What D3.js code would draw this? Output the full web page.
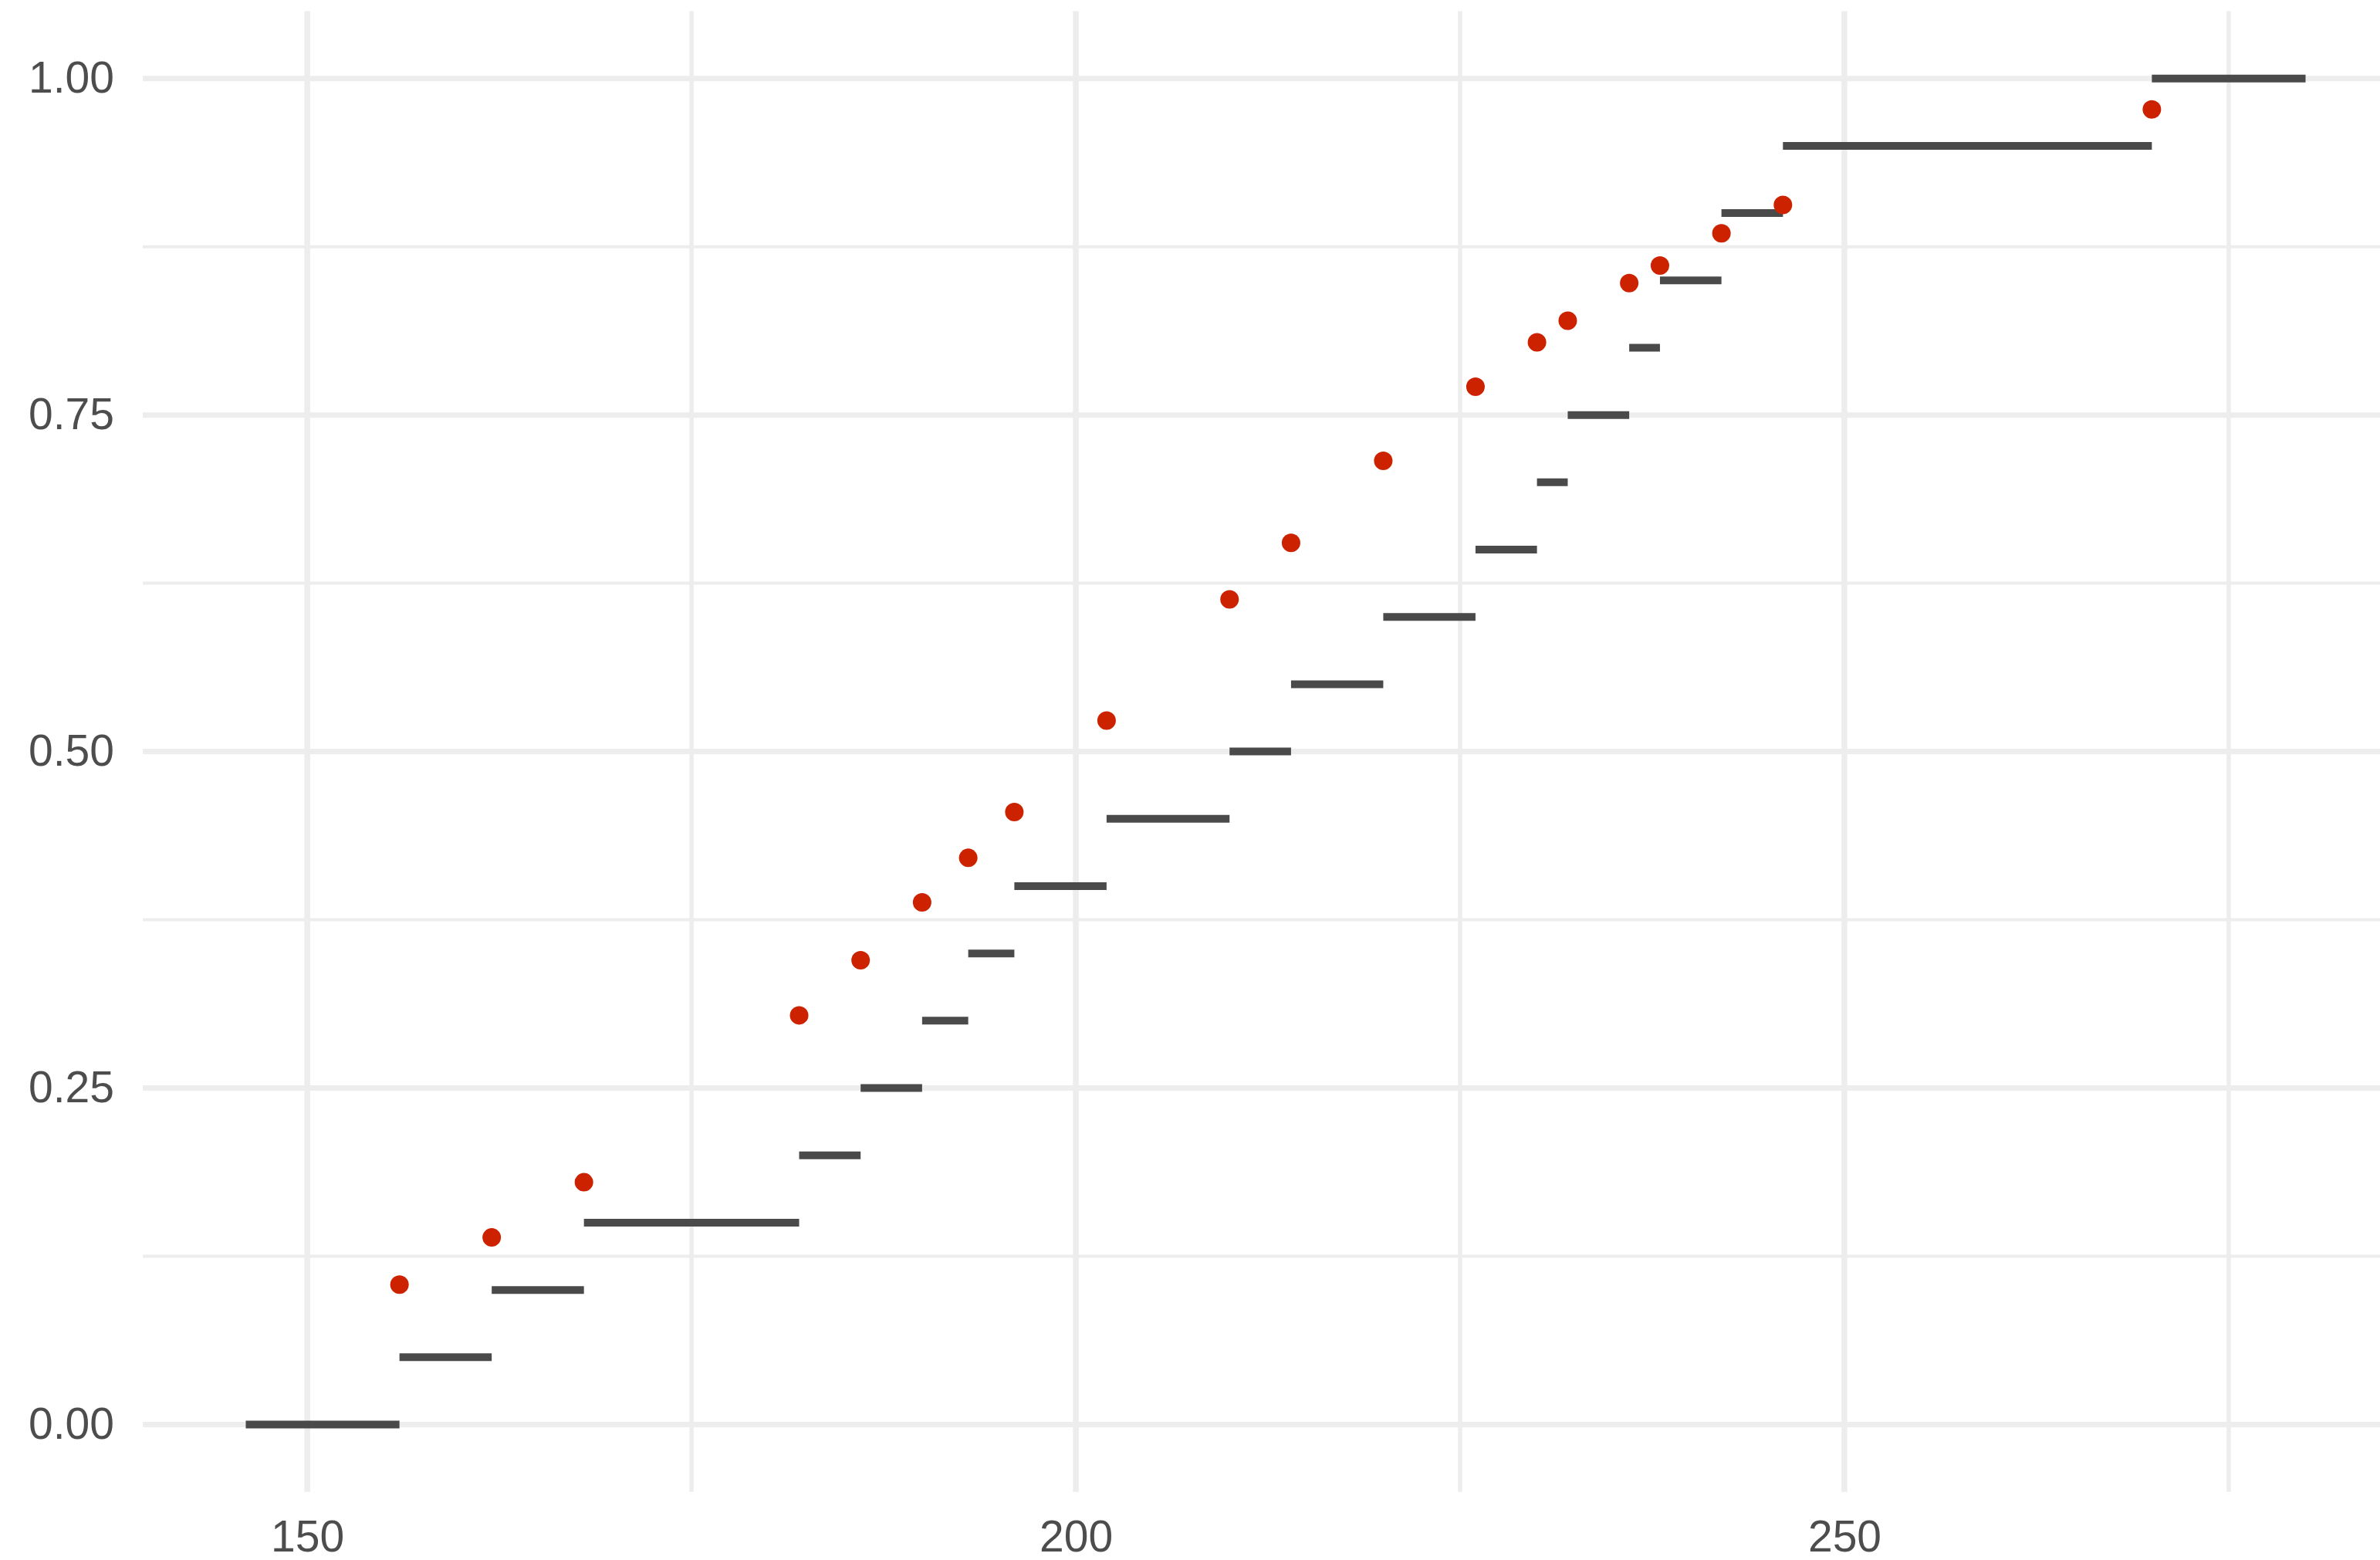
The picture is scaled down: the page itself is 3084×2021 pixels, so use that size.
<!DOCTYPE html>
<html>
<head>
<meta charset="utf-8">
<script src="https://cdn.jsdelivr.net/npm/d3@7"></script>
<style>
  html, body { margin: 0; padding: 0; background: #ffffff; overflow: hidden; }
  svg { display: block; }
</style>
</head>
<body>
<svg id="chart" width="3084" height="2021"></svg>
<script>
// ---- Data ----
const stepStarts = [146, 156, 162, 168, 182, 186, 190, 193, 196, 202, 210, 214, 220, 226, 230, 232, 236, 238, 242, 246, 270];
const stepEnds   = [156, 162, 168, 182, 186, 190, 193, 196, 202, 210, 214, 220, 226, 230, 232, 236, 238, 242, 246, 270, 280];
const stepLevels = [0.00, 0.05, 0.10, 0.15, 0.20, 0.25, 0.30, 0.35, 0.40, 0.45, 0.50, 0.55, 0.60, 0.65, 0.70, 0.75, 0.80, 0.85, 0.90, 0.95, 1.00];

const pointX = [156, 162, 168, 182, 186, 190, 193, 196, 202, 210, 214, 220, 226, 230, 232, 236, 238, 242, 246, 270];
const pointY = [0.104, 0.139, 0.180, 0.304, 0.345, 0.388, 0.421, 0.455, 0.523, 0.613, 0.655, 0.716, 0.771, 0.804, 0.820, 0.848, 0.861, 0.885, 0.906, 0.977];

const xMajorTicks = [150, 200, 250];
const xMinorTicks = [175, 225, 275];
const yMajorTicks = [0, 0.25, 0.5, 0.75, 1.0];
const yMinorTicks = [0.125, 0.375, 0.625, 0.875];
const yTickLabels = ["0.00", "0.25", "0.50", "0.75", "1.00"];

// ---- Layout ----
const panel = { left: 185, right: 3121, top: 14.5, bottom: 1932.7 };
const svg = d3.select("#chart");

const x = d3.scaleLinear().domain([139.3, 286.7]).range([panel.left, panel.right]);
const y = d3.scaleLinear().domain([-0.05, 1.05]).range([panel.bottom, panel.top]);

const grid = svg.append("g");
const gridColor = "#ededed";

// minor gridlines
grid.selectAll("line.hminor").data(yMinorTicks).enter().append("line")
  .attr("x1", panel.left).attr("x2", panel.right)
  .attr("y1", d => y(d)).attr("y2", d => y(d))
  .attr("stroke", gridColor).attr("stroke-width", 4);
grid.selectAll("line.vminor").data(xMinorTicks).enter().append("line")
  .attr("y1", panel.top).attr("y2", panel.bottom)
  .attr("x1", d => x(d)).attr("x2", d => x(d))
  .attr("stroke", gridColor).attr("stroke-width", 5.5);

// major gridlines
grid.selectAll("line.hmajor").data(yMajorTicks).enter().append("line")
  .attr("x1", panel.left).attr("x2", panel.right)
  .attr("y1", d => y(d)).attr("y2", d => y(d))
  .attr("stroke", gridColor).attr("stroke-width", 7);
grid.selectAll("line.vmajor").data(xMajorTicks).enter().append("line")
  .attr("y1", panel.top).attr("y2", panel.bottom)
  .attr("x1", d => x(d)).attr("x2", d => x(d))
  .attr("stroke", gridColor).attr("stroke-width", 7.5);

// step segments
const steps = stepStarts.map((s, i) => ({ x0: s, x1: stepEnds[i], v: stepLevels[i] }));
svg.append("g").selectAll("line").data(steps).enter().append("line")
  .attr("x1", d => x(d.x0)).attr("x2", d => x(d.x1))
  .attr("y1", d => y(d.v)).attr("y2", d => y(d.v))
  .attr("stroke", "#4a4a4a").attr("stroke-width", 10);

// points
const pts = pointX.map((v, i) => ({ x: v, y: pointY[i] }));
svg.append("g").selectAll("circle").data(pts).enter().append("circle")
  .attr("cx", d => x(d.x)).attr("cy", d => y(d.y))
  .attr("r", 12).attr("fill", "#cc2200");

// axes (labels only)
const font = "'Liberation Sans', Arial, Helvetica, sans-serif";
const yAxis = svg.append("g").attr("transform", `translate(${panel.left},0)`)
  .call(d3.axisLeft(y).tickValues(yMajorTicks).tickFormat((d, i) => yTickLabels[i]).tickSize(0).tickPadding(37));
const xAxis = svg.append("g").attr("transform", `translate(0,${panel.bottom})`)
  .call(d3.axisBottom(x).tickValues(xMajorTicks).tickFormat(d3.format("d")).tickSize(0).tickPadding(36.5));

[yAxis, xAxis].forEach(a => {
  a.select(".domain").remove();
  a.selectAll("text").attr("font-family", font).attr("font-size", 57).attr("fill", "#4d4d4d");
});
</script>
</body>
</html>
